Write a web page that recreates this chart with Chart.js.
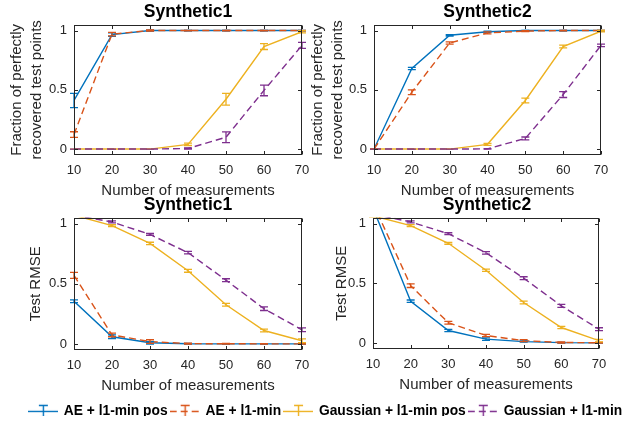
<!DOCTYPE html>
<html><head><meta charset="utf-8">
<script src="https://cdn.jsdelivr.net/npm/chart.js@4.4.1/dist/chart.umd.min.js"></script>
<style>
html,body{margin:0;padding:0;background:#fff;overflow:hidden;}
#wrap{position:relative;width:623px;height:421px;overflow:hidden;background:#fff;}
canvas{position:absolute;}
</style></head><body>
<div id="wrap">
<canvas id="c1" width="376" height="200" style="left:0px;top:0px"></canvas>
<canvas id="c2" width="379" height="200" style="left:298px;top:0px"></canvas>
<canvas id="c3" width="376" height="200" style="left:0px;top:195px"></canvas>
<canvas id="c4" width="378" height="199" style="left:298px;top:195px"></canvas>
<canvas id="cl" width="623" height="30" style="left:14px;top:401px"></canvas>
</div>
<script>
// ---------- data ----------
const measurements = [10, 20, 30, 40, 50, 60, 70];
const yTickValues = [0, 0.5, 1];
const seriesNames = ['AE + l1-min pos', 'AE + l1-min', 'Gaussian + l1-min pos', 'Gaussian + l1-min'];
const panelTitles = ['Synthetic1', 'Synthetic2', 'Synthetic1', 'Synthetic2'];
const xAxisTitle = 'Number of measurements';
const fracAxisTitle = ['Fraction of perfectly', 'recovered test points'];
const rmseAxisTitle = 'Test RMSE';

// Synthetic1 - fraction of perfectly recovered test points
const s1FracAEPos      = [0.41, 0.965, 1.0, 1.0, 1.0, 1.0, 1.0];
const s1FracAEPosErr   = [0.06, 0.015, 0.004, 0.002, 0.002, 0.002, 0.002];
const s1FracAEL1       = [0.122, 0.97, 1.0, 1.0, 1.0, 1.0, 1.0];
const s1FracAEL1Err    = [0.024, 0.015, 0.005, 0.002, 0.002, 0.002, 0.002];
const s1FracGaussPos    = [0, 0, 0, 0.04, 0.42, 0.865, 0.99];
const s1FracGaussPosErr = [0, 0, 0, 0.01, 0.05, 0.025, 0.01];
const s1FracGaussL1     = [0, 0, 0, 0.005, 0.10, 0.495, 0.875];
const s1FracGaussL1Err  = [0, 0, 0, 0.005, 0.045, 0.045, 0.025];

// Synthetic2 - fraction of perfectly recovered test points
const s2FracAEPos      = [0, 0.68, 0.96, 0.99, 1.0, 1.0, 1.0];
const s2FracAEPosErr   = [0.003, 0.01, 0.006, 0.004, 0.002, 0.002, 0.002];
const s2FracAEL1       = [0, 0.48, 0.895, 0.98, 0.995, 1.0, 1.0];
const s2FracAEL1Err    = [0.003, 0.02, 0.01, 0.008, 0.004, 0.002, 0.002];
const s2FracGaussPos    = [0, 0, 0, 0.04, 0.41, 0.865, 0.995];
const s2FracGaussPosErr = [0, 0, 0, 0.008, 0.02, 0.012, 0.006];
const s2FracGaussL1     = [0, 0, 0, 0.002, 0.09, 0.46, 0.875];
const s2FracGaussL1Err  = [0, 0, 0, 0.002, 0.012, 0.025, 0.01];

// Synthetic1 - test RMSE
const s1RmseAEPos      = [0.355, 0.06, 0.01, 0.002, 0.001, 0.001, 0.001];
const s1RmseAEPosErr   = [0.012, 0.015, 0.01, 0.002, 0.002, 0.002, 0.002];
const s1RmseAEL1       = [0.57, 0.075, 0.02, 0.003, 0.002, 0.001, 0.001];
const s1RmseAEL1Err    = [0.025, 0.015, 0.015, 0.003, 0.002, 0.002, 0.002];
const s1RmseGaussPos    = [1.07, 0.984, 0.835, 0.608, 0.326, 0.112, 0.027];
const s1RmseGaussPosErr = [0.01, 0.008, 0.01, 0.012, 0.012, 0.012, 0.015];
const s1RmseGaussL1     = [1.07, 1.014, 0.91, 0.759, 0.53, 0.293, 0.118];
const s1RmseGaussL1Err  = [0.01, 0.008, 0.008, 0.01, 0.012, 0.015, 0.015];

// Synthetic2 - test RMSE
const s2RmseAEPos      = [1.13, 0.35, 0.105, 0.033, 0.012, 0.003, 0.001];
const s2RmseAEPosErr   = [0.01, 0.01, 0.01, 0.01, 0.005, 0.003, 0.002];
const s2RmseAEL1       = [1.17, 0.48, 0.17, 0.063, 0.02, 0.005, 0.002];
const s2RmseAEL1Err    = [0.01, 0.015, 0.012, 0.01, 0.008, 0.005, 0.003];
const s2RmseGaussPos    = [1.065, 0.983, 0.835, 0.609, 0.339, 0.13, 0.02];
const s2RmseGaussPosErr = [0.01, 0.008, 0.008, 0.01, 0.012, 0.01, 0.01];
const s2RmseGaussL1     = [1.08, 1.014, 0.915, 0.755, 0.543, 0.311, 0.116];
const s2RmseGaussL1Err  = [0.01, 0.008, 0.008, 0.01, 0.012, 0.012, 0.012];

// ---------- styles ----------
const FONT = '"Liberation Sans", Arial, Helvetica, sans-serif';
const COLORS = ['#0072BD', '#D95319', '#EDB120', '#7E2F8E'];
const DASHES = [[], [7, 4], [], [7, 4]];
const AXIS_COLOR = '#262626';
Chart.defaults.font.family = FONT;

const framePlugin = {
  id: 'frame',
  afterDraw(chart) {
    const {ctx, chartArea: a, scales: {x, y}} = chart;
    const L = Math.round(a.left) + 0.5, R = Math.round(a.right) - 0.5;
    const T = Math.round(a.top) + 0.5, B = Math.round(a.bottom) - 0.5;
    ctx.save();
    ctx.strokeStyle = AXIS_COLOR; ctx.lineWidth = 1; ctx.setLineDash([]);
    ctx.strokeRect(L, T, R - L, B - T);
    ctx.beginPath();
    x.ticks.forEach(t => {
      const px = Math.round(x.getPixelForValue(t.value)) + 0.5;
      ctx.moveTo(px, B); ctx.lineTo(px, B - 3.5);
      ctx.moveTo(px, T); ctx.lineTo(px, T + 3.5);
    });
    y.ticks.forEach(t => {
      const py = Math.round(y.getPixelForValue(t.value)) + 0.5;
      ctx.moveTo(L, py); ctx.lineTo(L + 3.5, py);
      ctx.moveTo(R, py); ctx.lineTo(R - 3.5, py);
    });
    ctx.stroke();
    ctx.restore();
  }
};

const errorBarPlugin = {
  id: 'errorBars',
  afterDatasetsDraw(chart) {
    const {ctx, chartArea: a, scales: {x, y}} = chart;
    ctx.save();
    ctx.beginPath(); ctx.rect(a.left - 6, a.top, a.right - a.left + 12, a.bottom - a.top); ctx.clip();
    chart.data.datasets.forEach(ds => {
      if (!ds.errorBars) return;
      ctx.strokeStyle = ds.borderColor; ctx.lineWidth = 1.3; ctx.setLineDash([]);
      ctx.beginPath();
      ds.data.forEach((p, i) => {
        const e = ds.errorBars[i];
        const px = x.getPixelForValue(p.x);
        const y1 = y.getPixelForValue(p.y - e), y2 = y.getPixelForValue(p.y + e);
        ctx.moveTo(px, y1); ctx.lineTo(px, y2);
        ctx.moveTo(px - 4, y1); ctx.lineTo(px + 4, y1);
        ctx.moveTo(px - 4, y2); ctx.lineTo(px + 4, y2);
      });
      ctx.stroke();
    });
    ctx.restore();
  }
};

function makePanel(id, title, yTitle, values, errors, g) {
  const datasets = values.map((vals, k) => ({
    label: seriesNames[k],
    data: measurements.map((m, i) => ({x: m, y: vals[i]})),
    errorBars: errors[k],
    borderColor: COLORS[k], backgroundColor: COLORS[k],
    borderWidth: 1.4, borderDash: DASHES[k],
    pointRadius: 0, tension: 0, fill: false,
    order: 4 - k
  }));
  return new Chart(document.getElementById(id), {
    type: 'line',
    data: {datasets},
    options: {
      responsive: false, animation: false, events: [],
      layout: {padding: 0},
      plugins: {
        legend: {display: false}, tooltip: {enabled: false},
        title: {display: true, text: title, color: '#000',
          font: {family: FONT, size: 17.5, weight: 'bold', lineHeight: 1.2},
          padding: {top: g.tTop, bottom: g.tBottom}}
      },
      scales: {
        x: {
          type: 'linear', min: 10, max: 70,
          afterBuildTicks: s => { s.ticks = measurements.map(v => ({value: v})); },
          afterFit: s => { s.height = 45; },
          grid: {display: false, drawTicks: false}, border: {display: false},
          ticks: {color: AXIS_COLOR, font: {family: FONT, size: 13}, padding: 8,
            maxRotation: 0, autoSkip: false, callback: v => String(v)},
          title: {display: true, text: xAxisTitle, color: AXIS_COLOR,
            font: {family: FONT, size: 15, lineHeight: 1.2}, padding: {top: 0, bottom: 0}}
        },
        y: {
          type: 'linear', min: -0.05, max: 1.05,
          afterBuildTicks: s => { s.ticks = yTickValues.map(v => ({value: v})); },
          afterFit: s => { s.width = g.yw; },
          grid: {display: false, drawTicks: false}, border: {display: false},
          ticks: {color: AXIS_COLOR, font: {family: FONT, size: 13}, padding: 7,
            callback: v => String(v)},
          title: {display: true, text: yTitle, color: AXIS_COLOR,
            font: {family: FONT, size: 15, lineHeight: 20 / 15}, padding: {top: g.yTitlePad, bottom: 0}}
        },
        ySpacer: {
          type: 'linear', position: 'right', display: true,
          afterFit: s => { s.width = g.right; },
          grid: {display: false, drawTicks: false}, border: {display: false},
          ticks: {display: false}, title: {display: false}
        }
      }
    },
    plugins: [framePlugin, errorBarPlugin]
  });
}

makePanel('c1', panelTitles[0], fracAxisTitle,
  [s1FracAEPos, s1FracAEL1, s1FracGaussPos, s1FracGaussL1],
  [s1FracAEPosErr, s1FracAEL1Err, s1FracGaussPosErr, s1FracGaussL1Err],
  {yw: 74, right: 74, tTop: 2, tBottom: 1.6, yTitlePad: 7});
makePanel('c2', panelTitles[1], fracAxisTitle,
  [s2FracAEPos, s2FracAEL1, s2FracGaussPos, s2FracGaussL1],
  [s2FracAEPosErr, s2FracAEL1Err, s2FracGaussPosErr, s2FracGaussL1Err],
  {yw: 76, right: 76, tTop: 2, tBottom: 1.6, yTitlePad: 10});
makePanel('c3', panelTitles[2], rmseAxisTitle,
  [s1RmseAEPos, s1RmseAEL1, s1RmseGaussPos, s1RmseGaussL1],
  [s1RmseAEPosErr, s1RmseAEL1Err, s1RmseGaussPosErr, s1RmseGaussL1Err],
  {yw: 74, right: 74, tTop: 0, tBottom: 1.6, yTitlePad: 26});
makePanel('c4', panelTitles[3], rmseAxisTitle,
  [s2RmseAEPos, s2RmseAEL1, s2RmseGaussPos, s2RmseGaussL1],
  [s2RmseAEPosErr, s2RmseAEL1Err, s2RmseGaussPosErr, s2RmseGaussL1Err],
  {yw: 75, right: 77, tTop: 0, tBottom: 1.6, yTitlePad: 34});

// ---------- shared legend ----------
function legendGlyph(color, dash) {
  const c = document.createElement('canvas');
  c.width = 30; c.height = 16;
  const g = c.getContext('2d');
  g.strokeStyle = color; g.lineWidth = 1.4;
  g.setLineDash(dash);
  g.beginPath(); g.moveTo(0, 8.5); g.lineTo(30, 8.5); g.stroke();
  g.setLineDash([]);
  g.beginPath();
  g.moveTo(15.5, 2); g.lineTo(15.5, 15);
  g.moveTo(11, 2.5); g.lineTo(20, 2.5);
  g.moveTo(11, 14.5); g.lineTo(20, 14.5);
  g.stroke();
  return c;
}
new Chart(document.getElementById('cl'), {
  type: 'line',
  data: {datasets: seriesNames.map((n, k) => ({
    label: n, data: [], borderColor: COLORS[k], backgroundColor: COLORS[k],
    pointStyle: legendGlyph(COLORS[k], DASHES[k])
  }))},
  options: {
    responsive: false, animation: false, events: [],
    layout: {padding: 0},
    scales: {x: {display: false}, y: {display: false}},
    plugins: {
      tooltip: {enabled: false},
      legend: {display: true, position: 'top',
        labels: {usePointStyle: true, pointStyleWidth: 28, padding: 3, color: '#000',
          font: {family: FONT, size: 13.8, weight: 'bold'}}}
    }
  }
});
</script>
</body></html>
